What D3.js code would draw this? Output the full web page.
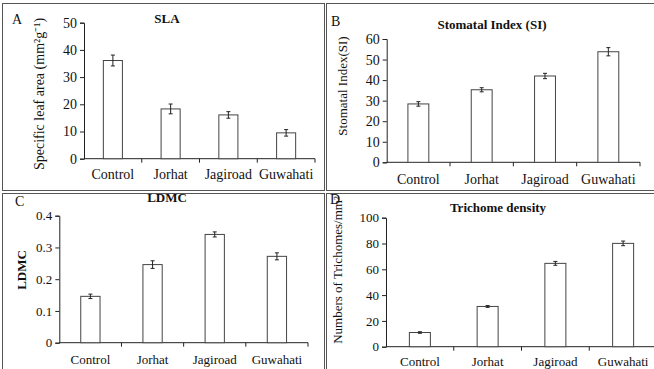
<!DOCTYPE html>
<html>
<head>
<meta charset="utf-8">
<script src="https://cdn.jsdelivr.net/npm/d3@7"></script>
<style>
body { margin:0; background:#fff; }
svg text { font-family:"Liberation Serif", "Times New Roman", serif !important; }
</style>
</head>
<body>
<svg id="chart" width="654" height="369"></svg>
<script>
var categories = ["Control", "Jorhat", "Jagiroad", "Guwahati"]

var slaMean = [36.1, 18.3, 16.1, 9.5]
var slaErr = [2.0, 1.8, 1.2, 1.2]
var slaTicks = [0, 10, 20, 30, 40, 50]

var siMean = [28.4, 35.3, 42.0, 53.8]
var siErr = [1.1, 1.0, 1.3, 2.0]
var siTicks = [0, 10, 20, 30, 40, 50, 60]

var ldmcMean = [0.146, 0.246, 0.341, 0.272]
var ldmcErr = [0.007, 0.012, 0.008, 0.011]
var ldmcTicks = [0, 0.1, 0.2, 0.3, 0.4]

var trichMean = [11.0, 31.2, 64.6, 80.1]
var trichErr = [0.6, 0.7, 1.5, 1.8]
var trichTicks = [0, 20, 40, 60, 80, 100]

var svg = d3.select("#chart")

// panel frames
var boxes = [[2, 3, 322, 187], [326, 3, 330, 187], [2, 193, 322, 180], [326, 193, 330, 180]]
svg.selectAll("rect.frame").data(boxes).enter()
  .append("rect").attr("class", "frame")
  .attr("x", function(d){ return d[0] + 0.5 })
  .attr("y", function(d){ return d[1] + 0.5 })
  .attr("width", function(d){ return d[2] })
  .attr("height", function(d){ return d[3] })
  .attr("fill", "none").attr("stroke", "#555").attr("stroke-width", 1)

function drawPanel(p) {
  var g = svg.append("g")
  var x = d3.scaleBand().domain(categories).range([p.left, p.right])
  var y = d3.scaleLinear().domain([0, p.max]).range([p.bottom, p.top])

  // y axis
  var yAxis = d3.axisLeft(y).tickValues(p.ticks).tickSize(4).tickPadding(3)
    .tickFormat(p.fmt || d3.format("d"))
  var ya = g.append("g").attr("transform", "translate(" + p.left + ",0)").call(yAxis)
  ya.attr("font-family", null)
  ya.select(".domain").attr("stroke", "#222")
  ya.selectAll(".tick line").attr("stroke", "#222")
  ya.selectAll("text").attr("font-size", p.tickSize).attr("fill", "#111")

  // x axis, ticks between categories like excel
  var xa = g.append("g").attr("transform", "translate(0," + p.bottom + ")")
    .call(d3.axisBottom(x).tickSize(0).tickPadding(p.xPad))
  xa.attr("font-family", null)
  xa.select(".domain").remove()
  xa.selectAll("text").attr("font-size", p.labelSize).attr("fill", "#111")
  g.append("line").attr("x1", p.left).attr("x2", p.right).attr("y1", p.bottom).attr("y2", p.bottom)
    .attr("stroke", "#222")
  var seps = categories.map(function(c){ return x(c) + x.bandwidth() })
  g.selectAll("line.sep").data(seps).enter().append("line").attr("class", "sep")
    .attr("x1", function(d){ return d }).attr("x2", function(d){ return d })
    .attr("y1", p.bottom).attr("y2", p.bottom + 4).attr("stroke", "#222")

  // bars
  var bw = x.bandwidth() * p.barFrac
  g.selectAll("rect.bar").data(p.mean).enter().append("rect").attr("class", "bar")
    .attr("x", function(d, i){ return x(categories[i]) + (x.bandwidth() - bw) / 2 })
    .attr("y", function(d){ return y(d) })
    .attr("width", bw)
    .attr("height", function(d){ return p.bottom - y(d) })
    .attr("fill", "#fff").attr("stroke", "#444").attr("stroke-width", 1)

  // error bars
  var eg = g.selectAll("g.err").data(p.mean).enter().append("g").attr("class", "err")
  var cx = function(i){ return x(categories[i]) + x.bandwidth() / 2 }
  eg.append("line")
    .attr("x1", function(d, i){ return cx(i) }).attr("x2", function(d, i){ return cx(i) })
    .attr("y1", function(d, i){ return y(d - p.err[i]) }).attr("y2", function(d, i){ return y(d + p.err[i]) })
    .attr("stroke", "#222")
  ;[-1, 1].forEach(function(s){
    eg.append("line")
      .attr("x1", function(d, i){ return cx(i) - 2 }).attr("x2", function(d, i){ return cx(i) + 2 })
      .attr("y1", function(d, i){ return y(d + s * p.err[i]) }).attr("y2", function(d, i){ return y(d + s * p.err[i]) })
      .attr("stroke", "#222")
  })

  // texts
  g.append("text").attr("x", p.letter[0]).attr("y", p.letter[1]).text(p.name)
    .attr("font-size", 14).attr("fill", "#111")
  g.append("text").attr("x", p.title[0]).attr("y", p.title[1]).text(p.titleText)
    .attr("text-anchor", "middle").attr("font-weight", "bold").attr("font-size", 13).attr("fill", "#111")
  g.append("text").attr("transform", "translate(" + p.ylab[0] + "," + p.ylab[1] + ") rotate(-90)")
    .attr("text-anchor", "middle").text(p.ylabText)
    .attr("font-size", p.ylabSize).attr("font-weight", p.ylabBold ? "bold" : "normal").attr("fill", "#111")
}

drawPanel({name: "A", mean: slaMean, err: slaErr, ticks: slaTicks, max: 50,
  left: 84, right: 315, top: 22.7, bottom: 158.7, barFrac: 0.33,
  tickSize: 14, labelSize: 14, xPad: 10,
  letter: [12, 24], title: [167, 23], titleText: "SLA",
  ylab: [44, 94], ylabText: "Specific leaf area (mm²g⁻¹)", ylabSize: 14})

drawPanel({name: "B", mean: siMean, err: siErr, ticks: siTicks, max: 60,
  left: 386.7, right: 640, top: 39, bottom: 162.3, barFrac: 0.33,
  tickSize: 14, labelSize: 14, xPad: 12,
  letter: [331, 26], title: [492, 29], titleText: "Stomatal Index (SI)",
  ylab: [347, 86], ylabText: "Stomatal Index(SI)", ylabSize: 13})

drawPanel({name: "C", mean: ldmcMean, err: ldmcErr, ticks: ldmcTicks, max: 0.4,
  left: 59.3, right: 308, top: 215.7, bottom: 342.7, barFrac: 0.31,
  tickSize: 13, labelSize: 13, xPad: 12, fmt: function(d){ return d === 0 ? "0" : d3.format(".1f")(d) },
  letter: [15, 206], title: [167, 202], titleText: "LDMC",
  ylab: [26, 270], ylabText: "LDMC", ylabSize: 13, ylabBold: true})

drawPanel({name: "D", mean: trichMean, err: trichErr, ticks: trichTicks, max: 100,
  left: 386, right: 657, top: 217.7, bottom: 346.7, barFrac: 0.31,
  tickSize: 13, labelSize: 13, xPad: 10,
  letter: [330, 204], title: [498, 212], titleText: "Trichome density",
  ylab: [342, 270], ylabText: "Numbers of Trichomes/mm²", ylabSize: 13})
</script>
</body>
</html>
